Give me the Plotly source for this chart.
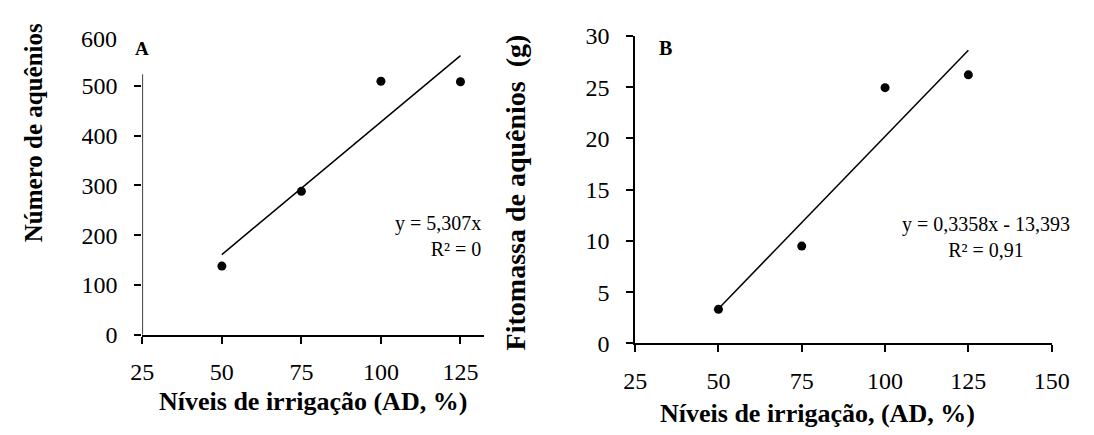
import numpy as np
import plotly.graph_objects as go

# ---- data ----
irrigation_levels = [50, 75, 100, 125]
achene_number = [138, 288, 509, 508]
achene_mass = [3.33, 9.5, 24.95, 26.2]

a_yticks = [0, 100, 200, 300, 400, 500]
b_yticks = [0, 5, 10, 15, 20, 25, 30]
a_xticks = [25, 50, 75, 100, 125]
b_xticks = [25, 50, 75, 100, 125, 150]

eq_a = ["y = 5,307x", "R² = 0"]
eq_b = ["y = 0,3358x - 13,393", "R² = 0,91"]

W, H = 1094, 435
FONT = "Liberation Serif, Times New Roman, serif"


def px(x):
    return x / W


def py(y):
    return 1 - y / H


def trend(xs, ys):
    k, b = np.polyfit(xs, ys, 1)
    xe = np.array([min(xs), max(xs)])
    return xe, k * xe + b


fig = go.Figure()

for xa, ya, ys in [("x", "y", achene_number), ("x2", "y2", achene_mass)]:
    tx, ty = trend(irrigation_levels, ys)
    fig.add_trace(go.Scatter(x=tx, y=ty, mode="lines", xaxis=xa, yaxis=ya,
                             line=dict(color="black", width=1.5),
                             showlegend=False, hoverinfo="skip"))
    fig.add_trace(go.Scatter(x=irrigation_levels, y=ys, mode="markers",
                             xaxis=xa, yaxis=ya,
                             marker=dict(color="black", size=9),
                             showlegend=False))

tickfont = dict(family=FONT, size=24, color="black")
common_x = dict(showgrid=False, zeroline=False, showline=True, linecolor="black",
                linewidth=1.5, ticks="outside", ticklen=7, tickwidth=1.5,
                tickcolor="black", tickfont=tickfont, ticklabelstandoff=8)
common_y = dict(showgrid=False, zeroline=False, ticks="outside", ticklen=7,
                tickwidth=1.5, tickcolor="black", tickfont=tickfont,
                ticklabelstandoff=12)

fig.update_layout(
    width=W, height=H,
    margin=dict(l=0, r=0, t=0, b=0),
    paper_bgcolor="white", plot_bgcolor="white",
    xaxis=dict(domain=[px(134), px(485)], range=[25, 132.3],
               tickvals=a_xticks, anchor="y", **common_x),
    yaxis=dict(domain=[py(342.3), py(24.3)], range=[0, 600],
               tickvals=a_yticks, anchor="x", showline=False, **common_y),
    xaxis2=dict(domain=[px(640.7), px(1069)], range=[25, 150],
                tickvals=b_xticks, anchor="y2", **common_x),
    yaxis2=dict(domain=[py(351.5), py(24.3)], range=[0, 30],
                tickvals=b_yticks, anchor="x2", showline=True,
                linecolor="black", linewidth=1.5, **common_y),
)

# y axis line of panel A (stops below the top of the value range)
fig.add_shape(type="line", xref="x", yref="y", x0=25, x1=25, y0=0, y1=523,
              line=dict(color="black", width=1.5))


def ann(text, x, y, size, bold=False, xanchor="center", angle=0, align="center"):
    fig.add_annotation(text=f"<b>{text}</b>" if bold else text,
                       x=px(x), y=py(y), xref="paper", yref="paper",
                       xanchor=xanchor, yanchor="middle", textangle=angle,
                       align=align, showarrow=False,
                       font=dict(family=FONT, size=size, color="black"))


# clipped top tick label of panel A
ann("600", 110, 28, 24, xanchor="right")

ann("A", 133.5, 38, 19, bold=True)
ann("B", 671.5, 37, 20, bold=True)

ann("<br>".join(eq_a), 484, 237, 20, xanchor="right", align="right")
ann("<br>".join(eq_b), 1001, 238, 20, align="center")

ann("Número de aquênios", 23, 127.5, 25, bold=True, angle=-90)
ann("Fitomassa de aquênios \u00a0(g)", 518, 191, 28, bold=True, angle=-90)
ann("Níveis de irrigação (AD, %)", 309.5, 413, 26, bold=True)
ann("Níveis de irrigação, (AD, %)", 828, 426, 26, bold=True)

fig.write_html("out.html")
